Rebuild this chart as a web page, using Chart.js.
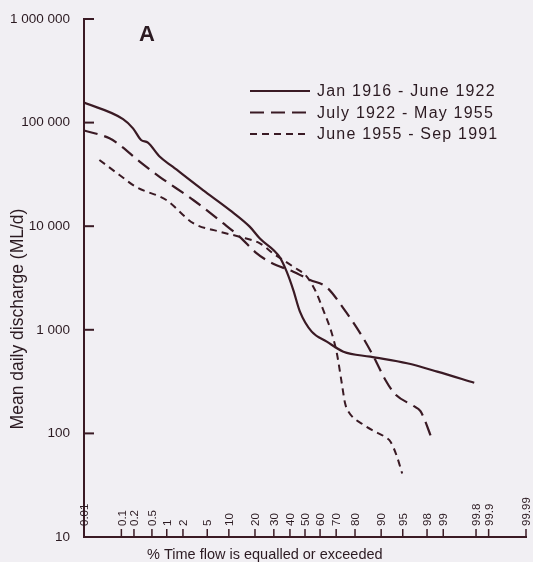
<!DOCTYPE html>
<html>
<head>
<meta charset="utf-8">
<script src="https://cdn.jsdelivr.net/npm/chart.js@4.4.1/dist/chart.umd.min.js"></script>
<style>
  html, body { margin: 0; padding: 0; background: #f1eff3; }
  #wrap { width: 533px; height: 562px; }
</style>
</head>
<body>
<div id="wrap"><canvas id="chart" width="533" height="562"></canvas></div>
<script>
// % time flow is equalled or exceeded, and mean daily discharge (ML/d)
const seriesLabels = ["Jan 1916 - June 1922", "July 1922 - May 1955", "June 1955 - Sep 1991"];

const pct1916 = [0.01, 0.11, 0.19, 0.29, 0.41, 0.72, 1.3, 4.3, 10.3, 17.6, 22.4, 33.6, 37.9, 42.2, 46.6, 54.5, 64.3, 74.1, 86.4, 95.7, 98.7, 99.78];
const flow1916 = [156000, 108000, 88000, 68000, 64000, 47000, 37500, 22300, 14300, 9900, 7600, 5000, 3640, 2420, 1500, 960, 770, 615, 550, 475, 395, 308];

const pct1922 = [0.01, 0.05, 0.09, 0.27, 0.72, 3.0, 8.4, 13.6, 20.7, 25.9, 31.6, 42.2, 53.4, 64.3, 74.1, 82.4, 87.6, 91.2, 93.5, 96.6, 97.4, 98.4];
const flow1922 = [84000, 70500, 61000, 42000, 30000, 17900, 10700, 7900, 5500, 4700, 4200, 3640, 3030, 2570, 1610, 925, 550, 328, 240, 184, 164, 86];

const pct1955 = [0.027, 0.09, 0.22, 0.98, 3.0, 7.6, 13.6, 22.4, 29.6, 42.2, 51.2, 56.7, 62.1, 67.4, 70.4, 73.2, 75.0, 76.8, 83.8, 88.1, 91.2, 92.5, 93.9, 94.9];
const flow1955 = [43600, 31200, 24000, 17900, 10700, 8850, 7900, 6840, 5470, 4060, 3260, 2420, 1550, 925, 593, 305, 195, 162, 121, 104, 92, 83, 60, 41];

const xTickLabels = ["0.01", "0.1", "0.2", "0.5", "1", "2", "5", "10", "20", "30", "40", "50", "60", "70", "80", "90", "95", "98", "99", "99.8", "99.9", "99.99"];
const yTickValues = [10, 100, 1000, 10000, 100000, 1000000];

const ink = "#3a1a24";
const textInk = "#2b1a21";

// inverse normal cdf (Acklam), used for the probability x axis
function probit(p) {
  const a = [-39.69683028665376, 220.9460984245205, -275.9285104469687, 138.3577518672690, -30.66479806614716, 2.506628277459239];
  const b = [-54.47609879822406, 161.5858368580409, -155.6989798598866, 66.80131188771972, -13.28068155288572];
  const c = [-0.007784894002430293, -0.3223964580411365, -2.400758277161838, -2.549732539343734, 4.374664141464968, 2.938163982698783];
  const d = [0.007784695709041462, 0.3224671290700398, 2.445134137142996, 3.754408661907416];
  const plow = 0.02425, phigh = 1 - plow;
  let q, r;
  if (p < plow) {
    q = Math.sqrt(-2 * Math.log(p));
    return (((((c[0]*q+c[1])*q+c[2])*q+c[3])*q+c[4])*q+c[5]) / ((((d[0]*q+d[1])*q+d[2])*q+d[3])*q+1);
  }
  if (p > phigh) {
    q = Math.sqrt(-2 * Math.log(1 - p));
    return -(((((c[0]*q+c[1])*q+c[2])*q+c[3])*q+c[4])*q+c[5]) / ((((d[0]*q+d[1])*q+d[2])*q+d[3])*q+1);
  }
  q = p - 0.5;
  r = q * q;
  return (((((a[0]*r+a[1])*r+a[2])*r+a[3])*r+a[4])*r+a[5])*q / (((((b[0]*r+b[1])*r+b[2])*r+b[3])*r+b[4])*r+1);
}

function toPoints(pcts, flows) {
  return pcts.map((p, i) => ({ x: probit(p / 100), y: flows[i] }));
}

function spaced(v) {
  return String(v).replace(/\B(?=(\d{3})+(?!\d))/g, " ");
}

const decor = {
  id: "decor",
  beforeDraw(chart) {
    const ctx = chart.ctx;
    ctx.save();
    ctx.fillStyle = "#f1eff3";
    ctx.fillRect(0, 0, chart.width, chart.height);
    ctx.restore();
  },
  afterDraw(chart) {
    const ctx = chart.ctx;
    const xs = chart.scales.x;
    const ys = chart.scales.y;
    const area = chart.chartArea;
    ctx.save();
    ctx.strokeStyle = ink;
    ctx.fillStyle = textInk;

    // y ticks point into the plot
    ctx.lineWidth = 2;
    yTickValues.forEach(v => {
      const py = ys.getPixelForValue(v);
      ctx.beginPath();
      ctx.moveTo(area.left, py);
      ctx.lineTo(area.left + 10, py);
      ctx.stroke();
    });

    // x ticks and rotated labels, inside the plot
    ctx.lineWidth = 1.5;
    ctx.font = "11.5px 'Liberation Sans', Arial, sans-serif";
    ctx.textAlign = "left";
    ctx.textBaseline = "middle";
    xTickLabels.forEach(lbl => {
      const px = xs.getPixelForValue(probit(parseFloat(lbl) / 100));
      ctx.beginPath();
      ctx.moveTo(px, area.bottom);
      ctx.lineTo(px, area.bottom - 8);
      ctx.stroke();
      ctx.save();
      ctx.translate(px + 1, area.bottom - 11);
      ctx.rotate(-Math.PI / 2);
      ctx.fillText(lbl, 0, 0);
      ctx.restore();
    });

    // axis titles
    ctx.font = "14.5px 'Liberation Sans', Arial, sans-serif";
    ctx.textAlign = "left";
    ctx.textBaseline = "alphabetic";
    ctx.fillText("% Time flow is equalled or exceeded", 147, 559);

    ctx.save();
    ctx.font = "17.5px 'Liberation Sans', Arial, sans-serif";
    ctx.translate(23, 319);
    ctx.rotate(-Math.PI / 2);
    ctx.textAlign = "center";
    ctx.fillText("Mean daily discharge (ML/d)", 0, 0);
    ctx.restore();

    // panel letter
    ctx.font = "bold 22px 'Liberation Sans', Arial, sans-serif";
    ctx.fillText("A", 139, 41);

    // legend
    ctx.font = "16px 'Liberation Sans', Arial, sans-serif";
    ctx.letterSpacing = "1.2px";
    ctx.textBaseline = "middle";
    chart.data.datasets.forEach((ds, i) => {
      const ly = 91 + i * 21.5;
      ctx.lineWidth = ds.borderWidth;
      ctx.setLineDash(ds.borderDash || []);
      ctx.beginPath();
      ctx.moveTo(250, ly);
      ctx.lineTo(310, ly);
      ctx.stroke();
      ctx.setLineDash([]);
      ctx.fillText(ds.label, 317, ly + 1);
    });
    ctx.restore();
  }
};

new Chart(document.getElementById("chart").getContext("2d"), {
  type: "line",
  data: {
    datasets: [{
      label: seriesLabels[0],
      data: toPoints(pct1916, flow1916),
      borderColor: ink,
      borderWidth: 2.2,
      borderDash: []
    }, {
      label: seriesLabels[1],
      data: toPoints(pct1922, flow1922),
      borderColor: ink,
      borderWidth: 2.2,
      borderDash: [14, 7]
    }, {
      label: seriesLabels[2],
      data: toPoints(pct1955, flow1955),
      borderColor: ink,
      borderWidth: 2,
      borderDash: [7, 5]
    }]
  },
  options: {
    responsive: false,
    animation: false,
    events: [],
    layout: { padding: { top: 19, right: 7, left: 0, bottom: 0 } },
    elements: {
      point: { radius: 0 },
      line: { cubicInterpolationMode: "monotone", fill: false }
    },
    plugins: {
      legend: { display: false },
      tooltip: { enabled: false }
    },
    scales: {
      x: {
        type: "linear",
        min: probit(0.0001),
        max: probit(0.9999),
        grid: { display: false },
        border: { display: true, color: ink, width: 2 },
        ticks: { display: false },
        afterFit(scale) { scale.height = 25; }
      },
      y: {
        type: "logarithmic",
        min: 10,
        max: 1000000,
        grid: { display: false },
        border: { display: true, color: ink, width: 2 },
        afterBuildTicks(scale) {
          scale.ticks = yTickValues.map(v => ({ value: v }));
        },
        ticks: {
          color: textInk,
          padding: 6,
          font: { family: "'Liberation Sans', Arial, sans-serif", size: 13.5 },
          callback: v => spaced(v)
        },
        afterFit(scale) { scale.width = 84; }
      }
    }
  },
  plugins: [decor]
});
</script>
</body>
</html>
